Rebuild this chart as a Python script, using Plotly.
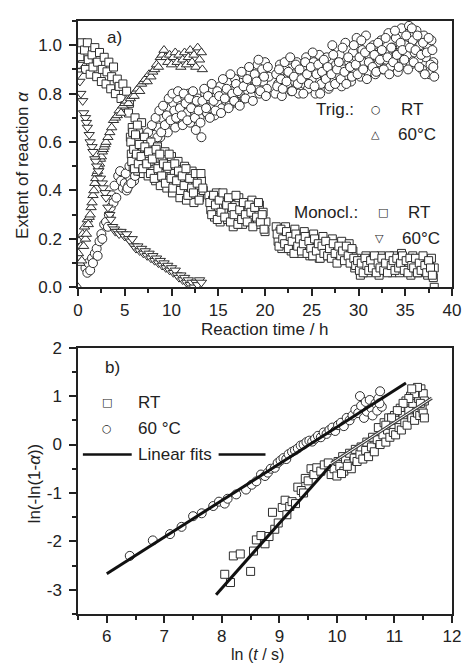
import plotly.graph_objects as go

# ---------------- Panel a) data: extent of reaction vs time (h) ----------------
trig_rt_t = [
    0.8, 1.0, 1.1, 1.3, 1.5, 1.6, 1.8, 2.0, 2.1, 2.3,
    2.5, 2.6, 2.8, 3.0, 3.2, 3.3, 3.5, 3.6, 3.8, 3.9,
    4.1, 4.3, 4.5, 4.6, 4.8, 5.0, 5.2, 5.4, 5.6, 5.8,
    6.0, 6.2, 6.4, 6.6, 6.8, 7.0, 7.2, 7.4, 7.6, 7.8,
    8.0, 8.2, 8.4, 8.6, 8.8, 9.0, 9.2, 9.4, 9.6, 9.8,
    10.0, 10.2, 10.4, 10.6, 10.8, 11.0, 11.2, 11.4, 11.6, 11.8,
    12.0, 12.2, 12.4, 12.6, 12.8, 13.0, 13.2, 13.4, 13.6, 13.8,
    14.0, 14.2, 14.4, 14.6, 14.8, 15.0, 15.2, 15.4, 15.6, 15.8,
    16.0, 16.2, 16.4, 16.6, 16.8, 17.0, 17.2, 17.4, 17.6, 17.8,
    18.0, 18.2, 18.4, 18.6, 18.8, 19.0, 19.2, 19.4, 19.6, 19.8,
    20.0, 20.2, 20.4, 21.1, 21.2, 21.4, 21.6, 21.8, 22.0, 22.2,
    22.4, 22.6, 22.8, 23.0, 23.2, 23.4, 23.6, 23.8, 24.0, 24.2,
    24.4, 24.6, 24.8, 25.0, 25.2, 25.4, 25.6, 25.8, 26.0, 26.2,
    26.4, 26.6, 26.8, 27.0, 27.2, 27.4, 27.6, 27.8, 28.0, 28.2,
    28.4, 28.6, 28.8, 29.0, 29.2, 29.4, 29.6, 29.8, 30.0, 30.2,
    30.4, 30.6, 30.8, 31.0, 31.2, 31.4, 31.6, 31.8, 32.0, 32.2,
    32.4, 32.6, 32.8, 33.0, 33.2, 33.4, 33.6, 33.8, 34.0, 34.2,
    34.4, 34.6, 34.8, 35.0, 35.2, 35.4, 35.6, 35.8, 36.0, 36.2,
    36.4, 36.6, 36.8, 37.0, 37.2, 37.4, 37.6, 37.8, 38.0, 38.1,
]
trig_rt_a = [
    0.08, 0.06, 0.10, 0.07, 0.12, 0.10, 0.14, 0.16, 0.13, 0.19,
    0.22, 0.20, 0.26, 0.27, 0.25, 0.30, 0.33, 0.38, 0.35, 0.42,
    0.37, 0.46, 0.48, 0.44, 0.41, 0.43, 0.40, 0.42, 0.45, 0.48,
    0.44, 0.50, 0.47, 0.53, 0.49, 0.56, 0.52, 0.58, 0.55, 0.61,
    0.57, 0.63, 0.60, 0.66, 0.62, 0.70, 0.65, 0.72, 0.64, 0.74,
    0.68, 0.76, 0.66, 0.78, 0.70, 0.75, 0.67, 0.79, 0.72, 0.80,
    0.68, 0.77, 0.73, 0.65, 0.78, 0.70, 0.62, 0.75, 0.80, 0.72,
    0.78, 0.74, 0.82, 0.71, 0.79, 0.76, 0.83, 0.74, 0.80, 0.77,
    0.85, 0.75, 0.81, 0.78, 0.86, 0.76, 0.83, 0.80, 0.88, 0.78,
    0.84, 0.81, 0.89, 0.79, 0.86, 0.83, 0.92, 0.80, 0.88, 0.85,
    0.93, 0.82, 0.87, 0.80, 0.88, 0.84, 0.92, 0.79, 0.86, 0.90,
    0.83, 0.94, 0.81, 0.88, 0.85, 0.93, 0.80, 0.87, 0.91, 0.84,
    0.95, 0.82, 0.89, 0.86, 0.93, 0.80, 0.90, 0.96, 0.84, 0.91,
    0.87, 0.95, 0.82, 0.89, 1.00, 0.85, 0.92, 0.88, 0.96, 0.83,
    0.90, 1.01, 0.87, 0.93, 0.85, 0.97, 0.89, 1.03, 0.91, 0.87,
    0.98, 0.93, 1.04, 0.89, 0.95, 0.92, 1.00, 0.88, 0.96, 0.93,
    1.02, 0.90, 0.97, 0.94, 1.05, 0.91, 0.99, 0.95, 1.03, 0.89,
    0.97, 1.07, 0.93, 1.00, 0.96, 1.08, 0.92, 1.02, 0.97, 1.06,
    0.94, 1.00, 0.90, 1.04, 0.95, 0.99, 0.88, 1.02, 0.93, 0.87,
]
# second run of trigonal RT readings (interleaved times)
trig_rt_t2 = [
    5.1, 5.3, 5.5, 5.7, 5.9, 6.1, 6.3, 6.5, 6.7, 6.9,
    7.1, 7.3, 7.5, 7.7, 7.9, 8.1, 8.3, 8.5, 8.7, 8.9,
    9.1, 9.3, 9.5, 9.7, 9.9, 10.1, 10.3, 10.5, 10.7, 10.9,
    11.1, 11.3, 11.5, 11.7, 11.9, 12.1, 12.3, 12.5, 12.7, 12.9,
    13.1, 13.3, 13.5, 13.7, 13.9, 14.1, 14.3, 14.5, 14.7, 14.9,
    15.1, 15.3, 15.5, 15.7, 15.9, 16.1, 16.3, 16.5, 16.7, 16.9,
    17.1, 17.3, 17.5, 17.7, 17.9, 18.1, 18.3, 18.5, 18.7, 18.9,
    19.1, 19.3, 19.5, 19.7, 19.9, 20.1, 20.3, 21.3, 21.5, 21.7,
    21.9, 22.1, 22.3, 22.5, 22.7, 22.9, 23.1, 23.3, 23.5, 23.7,
    23.9, 24.1, 24.3, 24.5, 24.7, 24.9, 25.1, 25.3, 25.5, 25.7,
    25.9, 26.1, 26.3, 26.5, 26.7, 26.9, 27.1, 27.3, 27.5, 27.7,
    27.9, 28.1, 28.3, 28.5, 28.7, 28.9, 29.1, 29.3, 29.5, 29.7,
    29.9, 30.1, 30.3, 30.5, 30.7, 30.9, 31.1, 31.3, 31.5, 31.7,
    31.9, 32.1, 32.3, 32.5, 32.7, 32.9, 33.1, 33.3, 33.5, 33.7,
    33.9, 34.1, 34.3, 34.5, 34.7, 34.9, 35.1, 35.3, 35.5, 35.7,
    35.9, 36.1, 36.3, 36.5, 36.7, 36.9, 37.1, 37.3, 37.5, 37.7,
    37.9, 38.0,
]
trig_rt_a2 = [
    0.47, 0.41, 0.50, 0.43, 0.52, 0.46, 0.55, 0.48, 0.58, 0.51,
    0.60, 0.54, 0.64, 0.57, 0.67, 0.59, 0.70, 0.62, 0.73, 0.64,
    0.75, 0.67, 0.71, 0.78, 0.69, 0.80, 0.73, 0.70, 0.81, 0.74,
    0.71, 0.80, 0.76, 0.69, 0.78, 0.74, 0.81, 0.70, 0.77, 0.73,
    0.68, 0.77, 0.82, 0.74, 0.79, 0.70, 0.84, 0.77, 0.73, 0.81,
    0.79, 0.72, 0.86, 0.78, 0.82, 0.74, 0.88, 0.80, 0.77, 0.84,
    0.81, 0.75, 0.89, 0.83, 0.78, 0.86, 0.91, 0.82, 0.77, 0.88,
    0.85, 0.94, 0.81, 0.90, 0.87, 0.79, 0.91, 0.83, 0.90, 0.86,
    0.82, 0.93, 0.85, 0.89, 0.95, 0.81, 0.87, 0.92, 0.84, 0.90,
    0.86, 0.80, 0.93, 0.88, 0.84, 0.91, 0.97, 0.83, 0.88, 0.92,
    0.80, 0.89, 0.94, 0.86, 0.91, 0.83, 0.88, 0.96, 0.84, 0.90,
    0.93, 0.86, 0.99, 0.89, 0.84, 0.95, 0.91, 0.87, 1.00, 0.92,
    0.88, 0.95, 1.02, 0.90, 0.97, 0.86, 0.93, 0.99, 0.91, 0.96,
    0.89, 1.01, 0.94, 0.98, 0.90, 1.03, 0.95, 0.88, 0.99, 0.93,
    1.06, 0.96, 0.91, 1.01, 0.98, 0.94, 1.04, 0.90, 0.99, 1.07,
    0.93, 0.98, 1.04, 0.91, 0.96, 1.01, 0.88, 0.97, 1.03, 0.92,
    0.98, 0.91,
]

trig_60_t = [
    0.0, 0.05, 0.1, 0.2, 0.3, 0.4, 0.5, 0.6, 0.7, 0.8, 0.9,
    1.0, 1.1, 1.2, 1.3, 1.4, 1.5, 1.6, 1.7, 1.8, 1.9,
    2.0, 2.1, 2.2, 2.3, 2.4, 2.5, 2.6, 2.7, 2.8, 2.9,
    3.0, 3.2, 3.4, 3.6, 3.8, 4.0, 4.2, 4.4, 4.6, 4.8,
    5.0, 5.2, 5.4, 5.6, 5.8, 6.0, 6.2, 6.4, 6.6, 6.8,
    7.0, 7.2, 7.4, 7.6, 7.8, 8.0, 8.2, 8.4, 8.6, 8.8,
    9.0, 9.2, 9.4, 9.6, 9.8, 10.0, 10.2, 10.4, 10.6, 10.8,
    11.0, 11.2, 11.4, 11.6, 11.8, 12.0, 12.2, 12.4, 12.6, 12.8,
    13.0, 13.2, 13.3,
]
trig_60_a = [
    0.00, 0.14, 0.19, 0.10, 0.17, 0.11, 0.22, 0.17, 0.25, 0.20, 0.22,
    0.28, 0.26, 0.29, 0.30, 0.33, 0.35, 0.38, 0.40, 0.43, 0.45,
    0.47, 0.48, 0.50, 0.51, 0.53, 0.54, 0.56, 0.57, 0.58, 0.59,
    0.60, 0.62, 0.64, 0.66, 0.69, 0.70, 0.71, 0.73, 0.72, 0.75,
    0.76, 0.77, 0.76, 0.78, 0.79, 0.79, 0.81, 0.82, 0.81, 0.84,
    0.85, 0.86, 0.85, 0.88, 0.87, 0.89, 0.90, 0.92, 0.91, 0.95,
    0.96, 0.98, 0.95, 0.93, 0.96, 0.92, 0.95, 0.97, 0.93, 0.96,
    0.91, 0.94, 0.97, 0.92, 0.95, 0.98, 0.93, 0.96, 0.91, 0.99,
    0.94, 0.97, 0.90,
]

mono_rt_t = [
    0.2, 0.4, 0.5, 0.7, 0.8, 1.0, 1.1, 1.3, 1.5, 1.6,
    1.8, 2.0, 2.1, 2.3, 2.5, 2.6, 2.8, 3.0, 3.1, 3.3,
    3.5, 3.6, 3.8, 4.0, 4.2, 4.4, 4.6, 4.8, 5.0, 5.2,
    5.4, 5.5, 5.6, 5.7, 5.8, 5.9, 6.0, 6.1, 6.2, 6.3,
    6.4, 6.5, 6.6, 6.7, 6.8, 6.9, 7.0, 7.1, 7.2, 7.4,
    7.5, 7.6, 7.8, 8.0, 8.1, 8.3, 8.5, 8.6, 8.8, 9.0,
    9.1, 9.3, 9.5, 9.6, 9.8, 10.0, 10.1, 10.3, 10.5, 10.7,
    10.9, 11.0, 11.2, 11.4, 11.6, 11.8, 12.0, 12.2, 12.4, 12.6,
    12.8, 13.0, 13.2, 13.4, 14.0, 14.2, 14.4, 14.6, 14.8, 15.0,
    15.2, 15.4, 15.6, 15.8, 16.0, 16.2, 16.4, 16.6, 16.8, 17.0,
    17.2, 17.4, 17.6, 17.8, 18.0, 18.2, 18.4, 18.6, 18.8, 19.0,
    19.2, 19.4, 19.6, 19.8, 20.0, 20.1, 21.2, 21.4, 21.6, 21.8,
    22.0, 22.2, 22.4, 22.6, 22.8, 23.0, 23.2, 23.4, 23.6, 23.8,
    24.0, 24.2, 24.4, 24.6, 24.8, 25.0, 25.2, 25.4, 25.6, 25.8,
    26.0, 26.2, 26.4, 26.6, 26.8, 27.0, 27.2, 27.4, 27.6, 27.8,
    28.0, 28.2, 28.4, 28.6, 28.8, 29.0, 29.2, 29.4, 29.6, 29.8,
    30.0, 30.2, 30.4, 30.6, 30.8, 31.0, 31.2, 31.4, 31.6, 31.8,
    32.0, 32.2, 32.4, 32.6, 32.8, 33.0, 33.2, 33.4, 33.6, 33.8,
    34.0, 34.2, 34.4, 34.6, 34.8, 35.0, 35.2, 35.4, 35.6, 35.8,
    36.0, 36.2, 36.4, 36.6, 36.8, 37.0, 37.2, 37.4, 37.6, 37.8,
    38.0, 38.1, 38.1,
]
mono_rt_a = [
    0.95, 1.01, 0.92, 0.98, 0.90, 1.01, 0.94, 0.88, 0.96, 0.91,
    0.99, 0.87, 0.93, 0.97, 0.85, 0.90, 0.95, 0.84, 0.89, 0.93,
    0.82, 0.87, 0.91, 0.80, 0.86, 0.83, 0.78, 0.84, 0.75, 0.81,
    0.72, 0.76, 0.62, 0.55, 0.66, 0.50, 0.58, 0.70, 0.53, 0.61,
    0.48, 0.64, 0.56, 0.51, 0.68, 0.58, 0.47, 0.62, 0.54, 0.59,
    0.46, 0.52, 0.60, 0.48, 0.55, 0.44, 0.58, 0.50, 0.42, 0.53,
    0.47, 0.56, 0.41, 0.49, 0.44, 0.54, 0.39, 0.47, 0.42, 0.52,
    0.37, 0.45, 0.40, 0.50, 0.36, 0.43, 0.38, 0.48, 0.35, 0.42,
    0.46, 0.37, 0.44, 0.40, 0.38, 0.32, 0.36, 0.29, 0.39, 0.33,
    0.27, 0.37, 0.31, 0.35, 0.28, 0.36, 0.30, 0.25, 0.34, 0.29,
    0.37, 0.31, 0.26, 0.35, 0.30, 0.33, 0.27, 0.36, 0.29, 0.32,
    0.26, 0.34, 0.28, 0.31, 0.23, 0.27, 0.25, 0.19, 0.23, 0.16,
    0.21, 0.25, 0.18, 0.22, 0.15, 0.20, 0.24, 0.17, 0.21, 0.14,
    0.19, 0.23, 0.16, 0.20, 0.13, 0.18, 0.22, 0.15, 0.19, 0.12,
    0.17, 0.21, 0.14, 0.18, 0.13, 0.16, 0.20, 0.13, 0.17, 0.11,
    0.15, 0.19, 0.12, 0.16, 0.14, 0.18, 0.11, 0.15, 0.08, 0.12,
    0.09, 0.05, 0.11, 0.08, 0.13, 0.06, 0.10, 0.08, 0.12, 0.07,
    0.10, 0.05, 0.13, 0.08, 0.11, 0.07, 0.12, 0.09, 0.06, 0.13,
    0.08, 0.11, 0.06, 0.14, 0.09, 0.12, 0.07, 0.10, 0.05, 0.13,
    0.08, 0.11, 0.06, 0.12, 0.09, 0.07, 0.11, 0.05, 0.10, 0.12,
    0.04, 0.08, 0.00,
]
# second run of monoclinic RT readings (interleaved times)
mono_rt_t2 = [
    5.65, 5.75, 5.85, 5.95, 6.05, 6.15, 6.25, 6.35, 6.45, 6.55,
    6.75, 6.95, 7.15, 7.35, 7.55, 7.75, 7.95, 8.15, 8.35, 8.55,
    8.75, 8.95, 9.15, 9.35, 9.55, 9.75, 9.95, 10.15, 10.35, 10.55,
    10.75, 10.95, 11.15, 11.35, 11.55, 11.75, 11.95, 12.15, 12.35, 12.55,
    12.75, 12.95, 13.15, 13.35, 14.1, 14.3, 14.5, 14.7, 14.9, 15.1,
    15.3, 15.5, 15.7, 15.9, 16.1, 16.3, 16.5, 16.7, 16.9, 17.1,
    17.3, 17.5, 17.7, 17.9, 18.1, 18.3, 18.5, 18.7, 18.9, 19.1,
    19.3, 19.5, 19.7, 19.9, 21.3, 21.5, 21.7, 21.9, 22.1, 22.3,
    22.5, 22.7, 22.9, 23.1, 23.3, 23.5, 23.7, 23.9, 24.1, 24.3,
    24.5, 24.7, 24.9, 25.1, 25.3, 25.5, 25.7, 25.9, 26.1, 26.3,
    26.5, 26.7, 26.9, 27.1, 27.3, 27.5, 27.7, 27.9, 28.1, 28.3,
    28.5, 28.7, 28.9, 29.1, 29.3, 29.5, 29.7, 29.9, 30.1, 30.3,
    30.5, 30.7, 30.9, 31.1, 31.3, 31.5, 31.7, 31.9, 32.1, 32.3,
    32.5, 32.7, 32.9, 33.1, 33.3, 33.5, 33.7, 33.9, 34.1, 34.3,
    34.5, 34.7, 34.9, 35.1, 35.3, 35.5, 35.7, 35.9, 36.1, 36.3,
    36.5, 36.7, 36.9, 37.1, 37.3, 37.5, 37.7, 37.9,
]
mono_rt_a2 = [
    0.60, 0.52, 0.64, 0.57, 0.49, 0.63, 0.55, 0.67, 0.51, 0.59,
    0.54, 0.49, 0.58, 0.51, 0.56, 0.47, 0.53, 0.45, 0.57, 0.49,
    0.55, 0.46, 0.51, 0.43, 0.50, 0.55, 0.45, 0.41, 0.51, 0.44,
    0.48, 0.40, 0.46, 0.42, 0.49, 0.38, 0.45, 0.41, 0.39, 0.47,
    0.43, 0.36, 0.47, 0.41, 0.35, 0.30, 0.38, 0.34, 0.28, 0.36,
    0.31, 0.39, 0.29, 0.34, 0.37, 0.27, 0.33, 0.30, 0.38, 0.26,
    0.32, 0.28, 0.35, 0.30, 0.27, 0.34, 0.31, 0.25, 0.33, 0.29,
    0.35, 0.27, 0.30, 0.24, 0.22, 0.17, 0.24, 0.20, 0.18, 0.23,
    0.16, 0.21, 0.19, 0.14, 0.22, 0.17, 0.20, 0.15, 0.18, 0.21,
    0.14, 0.19, 0.16, 0.13, 0.20, 0.15, 0.18, 0.12, 0.17, 0.14,
    0.19, 0.13, 0.16, 0.12, 0.18, 0.14, 0.10, 0.17, 0.13, 0.15,
    0.11, 0.17, 0.13, 0.10, 0.16, 0.12, 0.09, 0.11, 0.07, 0.10,
    0.06, 0.12, 0.09, 0.07, 0.11, 0.08, 0.13, 0.06, 0.10, 0.08,
    0.12, 0.07, 0.10, 0.06, 0.13, 0.09, 0.11, 0.07, 0.12, 0.08,
    0.10, 0.13, 0.07, 0.11, 0.06, 0.12, 0.09, 0.08, 0.12, 0.06,
    0.10, 0.07, 0.13, 0.09, 0.06, 0.11, 0.08, 0.05,
]

mono_60_t = [
    0.0, 0.1, 0.2, 0.3, 0.5, 0.6, 0.8, 0.9, 1.0, 1.2,
    1.3, 1.5, 1.6, 1.8, 1.9, 2.0, 2.2, 2.4, 2.6, 2.7,
    2.9, 3.0, 3.2, 3.4, 3.5, 3.7, 3.9, 4.0, 4.2, 4.4,
    4.6, 4.8, 5.0, 5.2, 5.4, 5.6, 5.8, 6.0, 6.2, 6.4,
    6.6, 6.8, 7.0, 7.2, 7.4, 7.6, 7.8, 8.0, 8.2, 8.4,
    8.6, 8.8, 9.0, 9.2, 9.4, 9.6, 9.8, 10.0, 10.2, 10.4,
    10.6, 10.8, 11.0, 11.2, 11.4, 11.6, 11.8, 12.0, 12.2, 12.4,
    12.6, 12.8, 13.0, 13.2,
]
mono_60_a = [
    0.88, 0.92, 0.85, 0.80, 0.77, 0.72, 0.70, 0.68, 0.66, 0.63,
    0.60, 0.58, 0.56, 0.53, 0.52, 0.50, 0.48, 0.45, 0.43, 0.41,
    0.39, 0.37, 0.33, 0.30, 0.28, 0.25, 0.24, 0.23, 0.23, 0.22,
    0.23, 0.22, 0.21, 0.22, 0.20, 0.19, 0.20, 0.17, 0.16, 0.17,
    0.15, 0.16, 0.14, 0.15, 0.13, 0.14, 0.12, 0.13, 0.11, 0.12,
    0.10, 0.11, 0.09, 0.10, 0.08, 0.09, 0.07, 0.08, 0.06, 0.07,
    0.05, 0.04, 0.05, 0.03, 0.04, 0.02, 0.03, 0.01, 0.02, 0.00,
    0.02, 0.01, 0.03, 0.02,
]

# ---------------- Panel b) data: Avrami plot ----------------
b_rt_x = [
    8.05, 8.15, 8.20, 8.32, 8.50, 8.55, 8.60, 8.68, 8.75, 8.82,
    8.88, 8.92, 8.98, 9.05, 9.10, 9.13, 9.18, 9.22, 9.28, 9.32,
    9.38, 9.42, 9.45, 9.50, 9.55, 9.60, 9.65, 9.72, 9.78, 9.85,
    9.90, 9.95, 10.00, 10.02, 10.05, 10.10, 10.12, 10.15, 10.20, 10.22,
    10.25, 10.30, 10.32, 10.35, 10.40, 10.42, 10.45, 10.50, 10.52, 10.55,
    10.60, 10.62, 10.65, 10.70, 10.72, 10.75, 10.80, 10.82, 10.85, 10.88,
    10.90, 10.92, 10.95, 10.98, 11.00, 11.02, 11.05, 11.08, 11.10, 11.12,
    11.15, 11.18, 11.20, 11.22, 11.25, 11.28, 11.30, 11.32, 11.35, 11.38,
    11.40, 11.42, 11.44, 11.46, 11.48, 11.50, 11.50, 11.52, 11.52, 11.45,
    11.35, 11.25, 11.15, 11.05, 10.95, 10.85, 11.40, 11.30, 10.08, 10.18,
]
b_rt_y = [
    -2.68, -2.85, -2.30, -2.26, -2.62, -2.20, -1.97, -1.88, -2.05, -1.90,
    -1.40, -1.75, -1.62, -1.30, -1.15, -1.45, -1.28, -1.18, -1.22, -0.88,
    -0.95, -1.00, -0.70, -0.75, -0.50, -0.62, -0.48, -0.55, -0.42, -0.38,
    -0.62, -0.50, -0.65, -0.35, -0.45, -0.25, -0.55, -0.30, -0.40, -0.18,
    -0.50, -0.28, -0.10, -0.35, -0.20, -0.05, -0.30, -0.12, 0.05, -0.25,
    -0.05, 0.15, -0.15, 0.10, 0.35, 0.00, 0.20, 0.45, 0.05, 0.30,
    0.55, 0.15, 0.40, 0.25, 0.60, 0.20, 0.50, 0.35, 0.75, 0.30,
    0.60, 0.45, 0.90, 0.40, 0.70, 1.00, 0.55, 0.85, 0.50, 1.10,
    0.65, 0.95, 0.60, 1.15, 0.75, 1.05, 0.65, 0.90, 0.55, 0.85,
    1.05, 0.95, 0.85, 0.70, 0.55, 0.40, 1.18, 1.15, -0.60, -0.45,
]

b_60_x = [
    6.40, 6.80, 7.10, 7.30, 7.50, 7.65, 7.85, 7.95, 8.05, 8.10,
    8.25, 8.42, 8.52, 8.60, 8.68, 8.75, 8.80, 8.85, 8.92, 8.97,
    9.02, 9.07, 9.12, 9.16, 9.22, 9.27, 9.32, 9.37, 9.42, 9.47,
    9.52, 9.57, 9.62, 9.67, 9.72, 9.77, 9.82, 9.87, 9.92, 9.97,
    10.02, 10.07, 10.12, 10.17, 10.22, 10.27, 10.32, 10.37, 10.40, 10.42,
    10.47, 10.50, 10.52, 10.57, 10.60, 10.62, 10.67, 10.70, 10.72, 10.75,
    10.78, 10.74,
]
b_60_y = [
    -2.30, -1.98, -1.85, -1.70, -1.48, -1.42, -1.27, -1.18, -1.22, -1.12,
    -1.03, -0.93, -0.83, -0.76, -0.62, -0.65, -0.58, -0.50, -0.48, -0.38,
    -0.33, -0.28, -0.30, -0.20, -0.15, -0.12, -0.08, -0.02, 0.00, 0.05,
    0.08, 0.06, 0.12, 0.18, 0.15, 0.25, 0.22, 0.30, 0.35, 0.28,
    0.40, 0.45, 0.38, 0.55, 0.50, 0.60, 0.72, 0.65, 1.00, 0.80,
    0.55, 0.88, 0.68, 0.92, 0.75, 0.60, 0.85, 0.70, 0.95, 1.10,
    0.78, 0.85,
]

fit_60_x = [6.0, 11.2]
fit_60_y = [-2.67, 1.27]
fit_rt1_x = [7.9, 9.9]
fit_rt1_y = [-3.10, -0.42]
fit_rt2_x = [9.9, 11.65]
fit_rt2_y = [-0.39, 0.96]

a_xticks = [0, 5, 10, 15, 20, 25, 30, 35, 40]
a_yticks = [0.0, 0.2, 0.4, 0.6, 0.8, 1.0]
b_xticks = [6, 7, 8, 9, 10, 11, 12]
b_yticks = [-3, -2, -1, 0, 1, 2]
b_yticklabels = ["-3", "-2", "-1", "0", "1", "2"]

# ---------------- figure ----------------
FONT = "Liberation Sans, Arial, Helvetica, sans-serif"
W, H = 473, 664
L, R, T, B = 78, 12, 15, 50
PW, PH = W - L - R, H - T - B
INK = "#222222"
MK = "#2e2e2e"


def fx(px):
    return (px - L) / PW


def fy(py):
    return (H - B - py) / PH


fig = go.Figure()


def scatter(x, y, sym, xa, ya, size=7):
    fig.add_trace(go.Scatter(
        x=x, y=y, mode="markers", xaxis=xa, yaxis=ya, showlegend=False,
        hoverinfo="skip",
        marker=dict(symbol=sym, size=size, color="white",
                    line=dict(color=MK, width=1))))


def line(x, y, xa, ya, color="#111111", width=3):
    fig.add_trace(go.Scatter(
        x=x, y=y, mode="lines", xaxis=xa, yaxis=ya, showlegend=False,
        hoverinfo="skip", line=dict(color=color, width=width)))


# panel a
scatter(trig_rt_t + trig_rt_t2, trig_rt_a + trig_rt_a2, "circle", "x", "y", 9)
scatter(mono_rt_t + mono_rt_t2, mono_rt_a + mono_rt_a2, "square", "x", "y", 8)
scatter(trig_60_t, trig_60_a, "triangle-up", "x", "y", 9)
scatter(mono_60_t, mono_60_a, "triangle-down", "x", "y", 9)

# panel b
scatter(b_rt_x, b_rt_y, "square", "x2", "y2", 8)
scatter(b_60_x, b_60_y, "circle", "x2", "y2", 9)
line(fit_60_x, fit_60_y, "x2", "y2")
line(fit_rt1_x, fit_rt1_y, "x2", "y2")
line(fit_rt2_x, fit_rt2_y, "x2", "y2", color="#444444", width=3.2)
line(fit_rt2_x, fit_rt2_y, "x2", "y2", color="white", width=1)

axis_common = dict(
    showline=True, linecolor=INK, linewidth=1.5, mirror=True,
    ticks="outside", ticklen=7, tickwidth=1.5, tickcolor=INK,
    showgrid=False, zeroline=False,
    tickfont=dict(family=FONT, size=17, color=INK),
)


def minor(dt):
    return dict(ticks="outside", ticklen=4, tickwidth=1.5, tickcolor=INK,
                dtick=dt, tick0=0)


dom_a = [fy(284), 1.0]
dom_b = [0.0, fy(345)]

fig.update_layout(
    width=W, height=H,
    margin=dict(l=L, r=R, t=T, b=B),
    paper_bgcolor="white", plot_bgcolor="white",
    font=dict(family=FONT, size=17, color=INK),
    xaxis=dict(domain=[0, 1], anchor="y", range=[0, 40], tickvals=a_xticks,
               minor=minor(2.5), ticklabelstandoff=0, **axis_common),
    yaxis=dict(domain=dom_a, anchor="x", range=[0, 1.1], tickvals=a_yticks,
               tickformat=".1f", minor=minor(0.1), ticklabelstandoff=4,
               **axis_common),
    xaxis2=dict(domain=[0, 1], anchor="y2", range=[5.5, 12], tickvals=b_xticks,
                minor=minor(0.5), ticklabelstandoff=-1, **axis_common),
    yaxis2=dict(domain=dom_b, anchor="x2", range=[-3.5, 2], tickvals=b_yticks,
                ticktext=b_yticklabels, minor=minor(0.5), ticklabelstandoff=4,
                **axis_common),
)

ann = []


def text(px, py, s, size=17, xanchor="center", yanchor="middle", angle=0,
         family=FONT):
    ann.append(dict(x=fx(px), y=fy(py), xref="paper", yref="paper", text=s,
                    showarrow=False, xanchor=xanchor, yanchor=yanchor,
                    textangle=angle, font=dict(family=family, size=size,
                                               color=INK)))


SYM = "DejaVu Sans"
# axis titles
text(269, 327, "Reaction time / h")
text(262, 655, "ln (<i>t</i> / s)", size=16)
text(21, 160, "Extent of reaction <i>α</i>", angle=-90)
text(33, 482, "ln(-ln(1-<i>α</i>))", angle=-90)
# panel labels
text(115, 32, "a)")
text(113, 365, "b)")
# legend a
text(363, 104, "Trig.:", xanchor="right")
text(383, 104, "○", size=11, family=SYM)
text(407, 104, "RT", xanchor="left")
text(383, 130, "△", size=11, family=SYM)
text(404, 130, "60°C", xanchor="left")
text(367, 208, "Monocl.:", xanchor="right")
text(390, 208, "□", size=11, family=SYM)
text(414, 208, "RT", xanchor="left")
text(387, 235, "▽", size=11, family=SYM)
text(408, 235, "60°C", xanchor="left")
# legend b
text(108, 400, "□", size=11, family=SYM)
text(137, 400, "RT", xanchor="left")
text(108, 427, "○", size=11, family=SYM)
text(137, 427, "60 °C", xanchor="left")
text(137, 453, "Linear fits", xanchor="left")

fig.update_layout(annotations=ann)

shapes = []
for x0, x1 in [(83, 133), (222, 270)]:
    shapes.append(dict(type="line", xref="paper", yref="paper",
                       x0=fx(x0), x1=fx(x1), y0=fy(453), y1=fy(453),
                       line=dict(color="#111111", width=2.5)))
fig.update_layout(shapes=shapes)

fig.write_html("out.html", config={"displayModeBar": False},
               post_script="document.body.style.margin='0';")
